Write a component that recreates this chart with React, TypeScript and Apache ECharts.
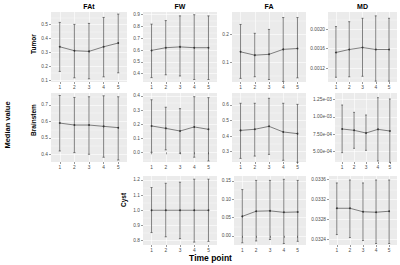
import React, { useEffect, useRef } from "react";
import * as echarts from "echarts";

const timePoints = [1, 2, 3, 4, 5];
const columnTitles = ["FAt", "FW", "FA", "MD"];
const rowTitles = ["Tumor", "Brainstem", "Cyst"];
const xAxisTitle = "Time point";
const yAxisTitle = "Median value";

// Tumor
const tumorFAtMean = [0.339, 0.311, 0.306, 0.339, 0.366];
const tumorFAtLow = [0.162, 0.116, 0.109, 0.123, 0.152];
const tumorFAtHigh = [0.514, 0.5, 0.507, 0.55, 0.574];
const tumorFAtRange = [0.086, 0.589];
const tumorFAtTicks = ["0.1", "0.2", "0.3", "0.4", "0.5"];

const tumorFWMean = [0.597, 0.62, 0.627, 0.62, 0.62];
const tumorFWLow = [0.366, 0.39, 0.38, 0.35, 0.35];
const tumorFWHigh = [0.82, 0.85, 0.89, 0.9, 0.89];
const tumorFWRange = [0.329, 0.923];
const tumorFWTicks = ["0.4", "0.5", "0.6", "0.7", "0.8", "0.9"];

const tumorFAMean = [0.137, 0.125, 0.128, 0.146, 0.149];
const tumorFALow = [0.041, 0.047, 0.037, 0.03, 0.043];
const tumorFAHigh = [0.236, 0.204, 0.218, 0.261, 0.261];
const tumorFARange = [0.028, 0.281];
const tumorFATicks = ["0.1", "0.2"];

const tumorMDMean = [0.001518, 0.00158, 0.00162, 0.00158, 0.00158];
const tumorMDLow = [0.00101, 0.00102, 0.00103, 0.00093, 0.00093];
const tumorMDHigh = [0.00205, 0.00215, 0.00222, 0.00227, 0.00222];
const tumorMDRange = [0.000913, 0.002349];
const tumorMDTicks = ["0.0012", "0.0016", "0.0020"];

// Brainstem
const brainFAtMean = [0.59, 0.578, 0.578, 0.57, 0.562];
const brainFAtLow = [0.42, 0.41, 0.4, 0.382, 0.365];
const brainFAtHigh = [0.758, 0.746, 0.75, 0.756, 0.75];
const brainFAtRange = [0.353, 0.773];
const brainFAtTicks = ["0.4", "0.5", "0.6", "0.7"];

const brainFWMean = [0.187, 0.17, 0.151, 0.18, 0.163];
const brainFWLow = [0.0, 0.017, -0.007, -0.035, -0.062];
const brainFWHigh = [0.373, 0.32, 0.31, 0.395, 0.388];
const brainFWRange = [-0.069, 0.421];
const brainFWTicks = ["0.0", "0.1", "0.2", "0.3", "0.4"];

const brainFAMean = [0.437, 0.444, 0.463, 0.427, 0.416];
const brainFALow = [0.257, 0.272, 0.283, 0.245, 0.232];
const brainFAHigh = [0.611, 0.611, 0.643, 0.611, 0.604];
const brainFARange = [0.234, 0.677];
const brainFATicks = ["0.3", "0.4", "0.5", "0.6"];

const brainMDMean = [0.000827, 0.000808, 0.000769, 0.000822, 0.000798];
const brainMDLow = [0.000486, 0.000548, 0.000519, 0.000365, 0.000346];
const brainMDHigh = [0.001173, 0.001067, 0.001029, 0.001279, 0.00126];
const brainMDRange = [0.000351, 0.001346];
const brainMDTicks = ["5.00e-04", "7.50e-04", "1.00e-03", "1.25e-03"];

// Cyst
const cystFWMean = [1.0, 1.0, 1.0, 1.0, 1.0];
const cystFWLow = [0.853, 0.825, 0.813, 0.79, 0.795];
const cystFWHigh = [1.15, 1.178, 1.185, 1.205, 1.205];
const cystFWRange = [0.771, 1.226];
const cystFWTicks = ["0.8", "0.9", "1.0", "1.1", "1.2"];

const cystFAMean = [0.053, 0.067, 0.068, 0.064, 0.065];
const cystFALow = [-0.019, -0.014, -0.01, -0.021, -0.015];
const cystFAHigh = [0.126, 0.151, 0.151, 0.154, 0.151];
const cystFARange = [-0.025, 0.163];
const cystFATicks = ["0.00", "0.05", "0.10", "0.15"];

const cystMDMean = [0.03302, 0.03302, 0.03295, 0.03294, 0.03296];
const cystMDLow = [0.03249, 0.03243, 0.03237, 0.03231, 0.03231];
const cystMDHigh = [0.03353, 0.03359, 0.03353, 0.03359, 0.03359];
const cystMDRange = [0.03228, 0.03367];
const cystMDTicks = ["0.0324", "0.0328", "0.0332", "0.0336"];

const FONT = "'Liberation Sans', Arial, Helvetica, sans-serif";
const BG = "#EBEBEB";
const INK = "#333333";
const TICKTXT = "#4D4D4D";

type Panel = {
  mean: number[];
  low: number[];
  high: number[];
  range: number[];
  ticks: string[];
  box: number[]; // left, top, width, height
};

export default function App() {
  const ref = useRef<HTMLDivElement>(null);

  useEffect(() => {
    if (!ref.current) return;
    const chart = echarts.init(ref.current, undefined, { renderer: "svg" });

    const r1 = [12, 70];
    const r2 = [93, 69];
    const r3 = [176, 69];
    const panels: Panel[] = [
      { mean: tumorFAtMean, low: tumorFAtLow, high: tumorFAtHigh, range: tumorFAtRange, ticks: tumorFAtTicks, box: [51, r1[0], 76, r1[1]] },
      { mean: tumorFWMean, low: tumorFWLow, high: tumorFWHigh, range: tumorFWRange, ticks: tumorFWTicks, box: [143, r1[0], 74, r1[1]] },
      { mean: tumorFAMean, low: tumorFALow, high: tumorFAHigh, range: tumorFARange, ticks: tumorFATicks, box: [232, r1[0], 74, r1[1]] },
      { mean: tumorMDMean, low: tumorMDLow, high: tumorMDHigh, range: tumorMDRange, ticks: tumorMDTicks, box: [328, r1[0], 69, r1[1]] },
      { mean: brainFAtMean, low: brainFAtLow, high: brainFAtHigh, range: brainFAtRange, ticks: brainFAtTicks, box: [51, r2[0], 76, r2[1]] },
      { mean: brainFWMean, low: brainFWLow, high: brainFWHigh, range: brainFWRange, ticks: brainFWTicks, box: [143, r2[0], 74, r2[1]] },
      { mean: brainFAMean, low: brainFALow, high: brainFAHigh, range: brainFARange, ticks: brainFATicks, box: [232, r2[0], 74, r2[1]] },
      { mean: brainMDMean, low: brainMDLow, high: brainMDHigh, range: brainMDRange, ticks: brainMDTicks, box: [335, r2[0], 62, r2[1]] },
      { mean: cystFWMean, low: cystFWLow, high: cystFWHigh, range: cystFWRange, ticks: cystFWTicks, box: [143, r3[0], 74, r3[1]] },
      { mean: cystFAMean, low: cystFALow, high: cystFAHigh, range: cystFARange, ticks: cystFATicks, box: [234, r3[0], 72, r3[1]] },
      { mean: cystMDMean, low: cystMDLow, high: cystMDHigh, range: cystMDRange, ticks: cystMDTicks, box: [329, r3[0], 68, r3[1]] },
    ];

    const grid: any[] = [];
    const xAxis: any[] = [];
    const yAxis: any[] = [];
    const series: any[] = [];

    panels.forEach((p, i) => {
      const tickVals = p.ticks.map((t) => parseFloat(t));
      const step = tickVals.length > 1 ? tickVals[1] - tickVals[0] : 0.1;
      const minor: number[] = [];
      for (let k = -1; k < tickVals.length; k++) {
        const m = tickVals[0] + step * (k + 0.5);
        if (m > p.range[0] && m < p.range[1]) minor.push(m);
      }
      const labelFor = (v: number) => {
        let best = 0;
        tickVals.forEach((t, j) => {
          if (Math.abs(t - v) < Math.abs(tickVals[best] - v)) best = j;
        });
        return p.ticks[best];
      };

      grid.push({
        left: p.box[0],
        top: p.box[1],
        width: p.box[2],
        height: p.box[3],
        show: true,
        backgroundColor: BG,
        borderWidth: 0,
        containLabel: false,
      });
      xAxis.push({
        type: "value",
        gridIndex: i,
        min: 0.4,
        max: 5.6,
        axisLine: { show: false },
        axisTick: { show: true, length: 2, lineStyle: { color: INK, width: 0.5 }, customValues: timePoints },
        axisLabel: {
          customValues: timePoints,
          fontSize: 4.8,
          color: TICKTXT,
          margin: 2.5,
          fontFamily: FONT,
          formatter: (v: number) => String(v),
        },
        splitLine: { show: true, lineStyle: { color: "#FFFFFF", width: 0.6 } },
      });
      yAxis.push({
        type: "value",
        gridIndex: i,
        min: p.range[0],
        max: p.range[1],
        axisLine: { show: false },
        axisTick: { show: true, length: 2, lineStyle: { color: INK, width: 0.5 }, customValues: tickVals },
        axisLabel: {
          customValues: tickVals,
          fontSize: 4.8,
          color: TICKTXT,
          margin: 3,
          fontFamily: FONT,
          formatter: (v: number) => labelFor(v),
        },
        splitLine: { show: true, lineStyle: { color: "#FFFFFF", width: 0.6 } },
      });
      yAxis.push({
        type: "value",
        gridIndex: i,
        position: "left",
        min: p.range[0],
        max: p.range[1],
        axisLine: { show: false },
        axisTick: { show: false, customValues: minor },
        axisLabel: { show: false, customValues: minor },
        splitLine: { show: true, lineStyle: { color: "#FFFFFF", width: 0.3 } },
      });
      const xi = i;
      const yi = 2 * i;
      series.push({
        type: "custom",
        xAxisIndex: xi,
        yAxisIndex: yi,
        encode: { x: 0, y: [1, 2] },
        data: timePoints.map((t, j) => [t, p.low[j], p.high[j]]),
        renderItem: (params: any, api: any) => {
          const x = api.value(0);
          const top = api.coord([x, api.value(2)]);
          const bot = api.coord([x, api.value(1)]);
          const half = api.size([0.15, 0])[0] / 2;
          const style = { stroke: INK, lineWidth: 0.6, fill: "none" };
          return {
            type: "group",
            children: [
              { type: "line", shape: { x1: top[0], y1: top[1], x2: bot[0], y2: bot[1] }, style },
              { type: "line", shape: { x1: top[0] - half, y1: top[1], x2: top[0] + half, y2: top[1] }, style },
              { type: "line", shape: { x1: bot[0] - half, y1: bot[1], x2: bot[0] + half, y2: bot[1] }, style },
            ],
          };
        },
        z: 2,
      });
      series.push({
        type: "line",
        xAxisIndex: xi,
        yAxisIndex: yi,
        data: timePoints.map((t, j) => [t, p.mean[j]]),
        symbol: "circle",
        symbolSize: 1.8,
        showSymbol: true,
        itemStyle: { color: INK },
        lineStyle: { color: INK, width: 0.6 },
        z: 3,
      });
    });

    const graphic: any[] = [];
    const colCenters = [89, 180, 269, 362.5];
    columnTitles.forEach((t, i) => {
      graphic.push({
        type: "text",
        x: colCenters[i],
        y: 6.5,
        style: {
          text: t,
          fontSize: 7,
          fontWeight: "bold",
          fontFamily: FONT,
          fill: "#000",
          textAlign: "center",
          textVerticalAlign: "middle",
          align: "center",
          verticalAlign: "middle",
        },
      });
    });
    const rowPos = [
      [33, 44],
      [33, 120],
      [123, 200],
    ];
    rowTitles.forEach((t, i) => {
      graphic.push({
        type: "text",
        x: rowPos[i][0],
        y: rowPos[i][1],
        rotation: Math.PI / 2,
        style: {
          text: t,
          fontSize: 6.5,
          fontWeight: "bold",
          fontFamily: FONT,
          fill: "#000",
          textAlign: "center",
          textVerticalAlign: "middle",
          align: "center",
          verticalAlign: "middle",
        },
      });
    });
    graphic.push({
      type: "text",
      x: 7,
      y: 125,
      rotation: Math.PI / 2,
      style: {
        text: yAxisTitle,
        fontSize: 7.5,
        fontWeight: "bold",
        fontFamily: FONT,
        fill: "#000",
        textAlign: "center",
        textVerticalAlign: "middle",
        align: "center",
        verticalAlign: "middle",
      },
    });
    graphic.push({
      type: "text",
      x: 210.5,
      y: 258,
      style: {
        text: xAxisTitle,
        fontSize: 8.5,
        fontWeight: "bold",
        fontFamily: FONT,
        fill: "#000",
        textAlign: "center",
        textVerticalAlign: "middle",
        align: "center",
        verticalAlign: "middle",
      },
    });

    chart.setOption({
      animation: false,
      backgroundColor: "#FFFFFF",
      grid,
      xAxis,
      yAxis,
      series,
      graphic,
    });

    return () => chart.dispose();
  }, []);

  return (
    <div
      ref={ref}
      style={{ position: "fixed", left: 0, top: 0, width: 400, height: 265 }}
    />
  );
}
